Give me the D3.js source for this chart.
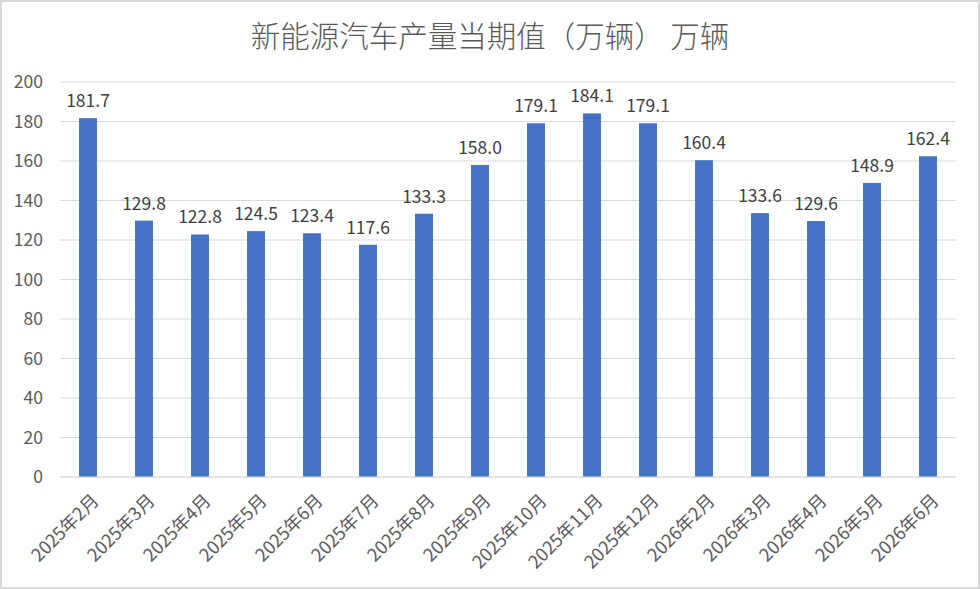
<!DOCTYPE html>
<html><head><meta charset="utf-8">
<script src="https://cdn.jsdelivr.net/npm/d3@7/dist/d3.min.js"></script>
<style>
html,body{margin:0;padding:0;background:#fff;}
svg{display:block;font-family:"Noto Sans CJK SC","Noto Sans",sans-serif;}
</style></head>
<body><svg id="c" width="980" height="589"></svg>
<script>
const categories = ["2025年2月","2025年3月","2025年4月","2025年5月","2025年6月","2025年7月","2025年8月","2025年9月","2025年10月","2025年11月","2025年12月","2026年2月","2026年3月","2026年4月","2026年5月","2026年6月"];
const values = [181.7,129.8,122.8,124.5,123.4,117.6,133.3,158.0,179.1,184.1,179.1,160.4,133.6,129.6,148.9,162.4];
const yTicks = [0,20,40,60,80,100,120,140,160,180,200];
const title = "新能源汽车产量当期值（万辆） 万辆";

const svg = d3.select("#c");
const W = 980, H = 589;
const m = {left:60, right:24, top:82, bottom:112};
svg.append("rect").attr("x",1).attr("y",1).attr("width",W-2).attr("height",H-2)
  .attr("fill","#fff").attr("stroke","#d9d9d9").attr("stroke-width",2);

const x = d3.scaleBand().domain(categories).range([m.left, W-m.right]).paddingInner(0.68).paddingOuter(0.34);
const y = d3.scaleLinear().domain([0,200]).range([H-m.bottom, m.top]);

// gridlines
svg.append("g").selectAll("line").data(yTicks).join("line")
  .attr("x1",m.left).attr("x2",W-m.right)
  .attr("y1",d=>y(d)).attr("y2",d=>y(d))
  .attr("stroke","#d9d9d9").attr("stroke-width",1);

// y axis labels
const yAxis = d3.axisLeft(y).tickValues(yTicks).tickSize(0).tickPadding(17);
const gy = svg.append("g").attr("transform",`translate(${m.left},0)`).call(yAxis);
gy.select(".domain").remove();
gy.selectAll("text").attr("fill","#595959").style("font-size","17.5px").style("font-family","'Noto Sans CJK SC',sans-serif");

// bars
svg.append("g").selectAll("rect").data(values).join("rect")
  .attr("x",(d,i)=>x(categories[i])).attr("width",x.bandwidth())
  .attr("y",d=>y(d)).attr("height",d=>y(0)-y(d))
  .attr("fill","#4472c4");

// data labels
svg.append("g").selectAll("text").data(values).join("text")
  .attr("x",(d,i)=>x(categories[i])+x.bandwidth()/2)
  .attr("y",d=>y(d)-11)
  .attr("text-anchor","middle").attr("fill","#404040")
  .style("font-size","17.5px")
  .text(d=>d.toFixed(1));

// x axis
const xAxis = d3.axisBottom(x).tickSize(0).tickPadding(0);
const gx = svg.append("g").attr("transform",`translate(0,${y(0)})`).call(xAxis);
gx.select(".domain").attr("stroke","#d9d9d9").attr("d",`M${m.left},0H${W-m.right}`);
gx.selectAll("text").attr("fill","#595959").style("font-size","18px")
  .style("font-family","'Noto Sans CJK SC',sans-serif")
  .attr("text-anchor","end").attr("dy",null)
  .attr("transform","translate(0,13) rotate(-45)")
  .attr("dominant-baseline","hanging");

// title
svg.append("text").attr("x",490).attr("y",47).attr("text-anchor","middle")
  .attr("fill","#595959").style("font-size","29.5px").style("font-weight","300").text(title);
</script></body></html>
